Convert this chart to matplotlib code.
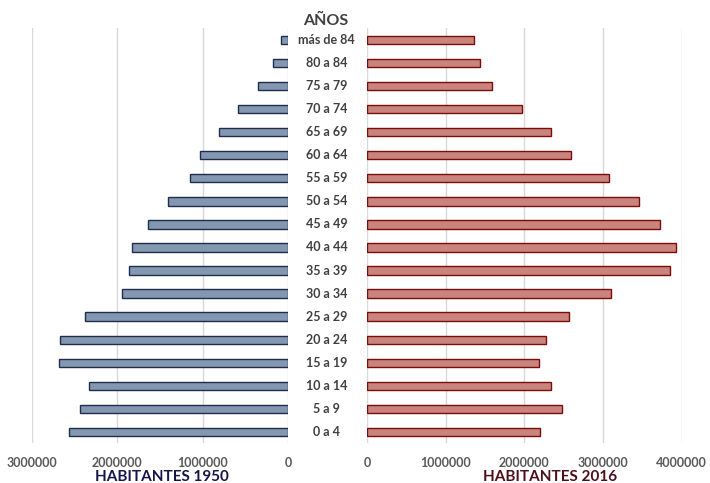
import matplotlib.pyplot as plt
from matplotlib.ticker import FuncFormatter

# population by age group, Spain 1950 vs 2016
edades = ['0 a 4', '5 a 9', '10 a 14', '15 a 19', '20 a 24', '25 a 29',
          '30 a 34', '35 a 39', '40 a 44', '45 a 49', '50 a 54', '55 a 59',
          '60 a 64', '65 a 69', '70 a 74', '75 a 79', '80 a 84', 'más de 84']
hab_1950 = [2572000, 2443000, 2329000, 2685000, 2669000, 2380000,
            1942000, 1860000, 1825000, 1646000, 1411000, 1145000,
            1036000, 805000, 591000, 360000, 184000, 90000]
hab_2016 = [2205000, 2484000, 2344000, 2192000, 2277000, 2565000,
            3106000, 3852000, 3932000, 3725000, 3462000, 3077000,
            2590000, 2344000, 1972000, 1587000, 1435000, 1366000]
ticks_1950 = [0, 1000000, 2000000, 3000000]
ticks_2016 = [0, 1000000, 2000000, 3000000, 4000000]

plt.rcParams['font.family'] = ['Lato', 'DejaVu Sans']

fig = plt.figure(figsize=(7.1, 4.83), dpi=100)
ax1 = fig.add_axes([0.045, 0.082, 0.361, 0.859])
ax2 = fig.add_axes([0.517, 0.082, 0.443, 0.859])

y = range(len(edades))
ax1.barh(y, hab_1950, height=0.36, color='#8497b0', edgecolor='#1f2d4d', linewidth=1)
ax2.barh(y, hab_2016, height=0.36, color='#c9857d', edgecolor='#7b0c0c', linewidth=1)

ax1.set_xlim(3000000, 0)
ax2.set_xlim(0, 4000000)
ax1.set_xticks(ticks_1950)
ax2.set_xticks(ticks_2016)

fmt = FuncFormatter(lambda v, p: f'{v:.0f}')
for ax in (ax1, ax2):
    ax.xaxis.set_major_formatter(fmt)
    ax.set_ylim(-0.5, len(edades) - 0.5)
    ax.set_yticks([])
    for s in ax.spines.values():
        s.set_visible(False)
    ax.grid(axis='x', color='#d9d9d9', linewidth=1)
    ax.set_axisbelow(True)
    ax.tick_params(axis='x', length=0, pad=10, labelsize=9, labelcolor='#595959')
    for lbl in ax.get_xticklabels():
        lbl.set_fontweight('bold')

# age labels in the gap between the two panels
for i, e in enumerate(edades):
    fig.text(0.46, ax1.transData.transform((0, i))[1] / fig.bbox.height, e,
             ha='center', va='center', fontsize=9, fontweight='bold', color='#404040')

fig.text(0.459, 0.957, 'AÑOS', ha='center', va='center', fontsize=11.5,
         fontweight='bold', color='#404040')
fig.text(0.228, 0.012, 'HABITANTES 1950', ha='center', va='center', fontsize=11,
         fontweight='bold', color='#15154a')
fig.text(0.775, 0.012, 'HABITANTES 2016', ha='center', va='center', fontsize=11,
         fontweight='bold', color='#4d0f1a')

fig.savefig('out.png', dpi=100)
